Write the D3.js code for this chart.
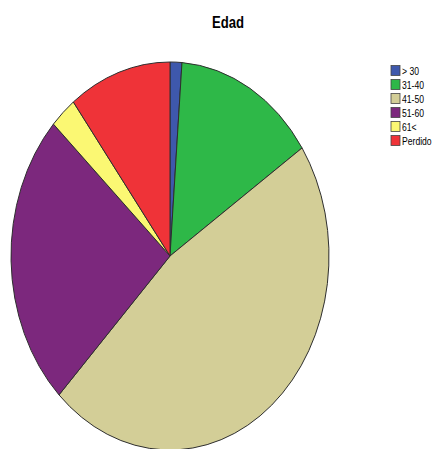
<!DOCTYPE html>
<html>
<head>
<meta charset="utf-8">
<script src="https://cdn.jsdelivr.net/npm/d3@7/dist/d3.min.js"></script>
<style>
html,body{margin:0;padding:0;background:#fff;}
svg{display:block;}
text{font-family:"Liberation Sans",Arial,sans-serif;fill:#000;}
</style>
</head>
<body>
<svg id="chart" width="433" height="449"></svg>
<script>
const title = "Edad";
const categories = ["> 30", "31-40", "41-50", "51-60", "61<", "Perdido"];
const values = [1.2, 14.4, 46.7, 24.6, 2.7, 10.4];
const colors = ["#3e58ac", "#2eb848", "#d3ce97", "#7c287d", "#fbf873", "#ef3338"];

const svg = d3.select("#chart");
const W = 433, H = 449;
const cx = 170, cy = 256, rx = 159, ry = 194;
const sx = rx / ry;

const data = categories.map((c, i) => ({cat: c, value: values[i], color: colors[i]}));
const pie = d3.pie().sort(null).value(d => d.value);
const arc = d3.arc().innerRadius(0).outerRadius(ry);

const g = svg.append("g").attr("transform", `translate(${cx},${cy}) scale(${sx},1)`);
g.selectAll("path").data(pie(data)).join("path")
  .attr("d", arc)
  .attr("fill", d => d.data.color)
  .attr("stroke", "#2e2e2e")
  .attr("stroke-width", 1)
  .attr("vector-effect", "non-scaling-stroke")
  .attr("stroke-linejoin", "round");

svg.append("text")
  .attr("transform", `translate(228,28) scale(0.82,1)`)
  .attr("text-anchor", "middle")
  .attr("font-weight", "bold")
  .attr("font-size", 16)
  .text(title);

const leg = svg.append("g");
const ly = d3.scaleBand().domain(categories).range([64, 64 + 14 * categories.length]);
categories.forEach((c, i) => {
  const y = ly(c);
  leg.append("rect")
    .attr("x", 391).attr("y", y + 1.5)
    .attr("width", 9).attr("height", 10)
    .attr("fill", colors[i])
    .attr("stroke", "#444").attr("stroke-width", 0.8);
  leg.append("text")
    .attr("transform", `translate(402,${y + 10.5}) scale(0.82,1)`)
    .attr("font-size", 10.5)
    .text(c);
});
</script>
</body>
</html>
